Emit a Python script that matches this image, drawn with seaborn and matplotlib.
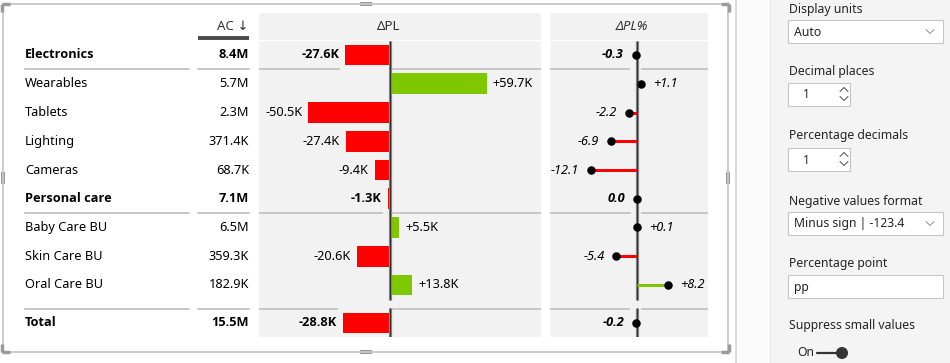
import numpy as np
import pandas as pd
import seaborn as sns
import matplotlib.pyplot as plt
from matplotlib import font_manager
from matplotlib.patches import Rectangle, Circle

# chart data
categories = ["Electronics", "Wearables", "Tablets", "Lighting", "Cameras",
              "Personal care", "Baby Care BU", "Skin Care BU", "Oral Care BU", "Total"]
is_group = [True, False, False, False, False, True, False, False, False, True]
ac_k = [8400, 5700, 2300, 371.4, 68.7, 7100, 6500, 359.3, 182.9, 15500]
dpl_k = [-27.6, 59.7, -50.5, -27.4, -9.4, -1.3, 5.5, -20.6, 13.8, -28.8]
dpl_pct = [-0.3, 1.1, -2.2, -6.9, -12.1, 0.0, 0.1, -5.4, 8.2, -0.2]
headers = ["AC \u2193", "\u0394PL", "\u0394PL%"]

# format pane texts
pane_labels = ["Display units", "Decimal places", "Percentage decimals",
               "Negative values format", "Percentage point", "Suppress small values"]
pane_values = ["Auto", "1", "1", "Minus sign | -123.4", "pp", "On"]

RED = "#ff0000"
GREEN = "#7fc800"
TXT = "#252423"
PANEL = "#f2f2f2"
SEP = "#c8c8c8"

sns.set_theme(style="white")
plt.rcParams["font.family"] = ["Noto Sans", "DejaVu Sans"]
FS = 9.2

# pick a family that really has a bold face
BOLD_FAM = ["Noto Sans", "DejaVu Sans"]
for fam in ["Noto Sans", "Open Sans", "Liberation Sans", "DejaVu Sans"]:
    try:
        f = font_manager.findfont(font_manager.FontProperties(family=fam, weight="bold"),
                                  fallback_to_default=False)
        if "bold" in f.lower():
            BOLD_FAM = [fam, "DejaVu Sans"]
            break
    except Exception:
        pass


def wkw(bold, italic=False):
    kw = {}
    if bold:
        kw.update(fontweight="bold", family=BOLD_FAM)
    if italic:
        kw.update(style="italic")
    return kw


W, H = 950, 363
PX = 0.72  # points per pixel at dpi 100
fig = plt.figure(figsize=(W / 100, H / 100), dpi=100)
bg = fig.add_axes([0, 0, 1, 1])
bg.set_xlim(0, W)
bg.set_ylim(H, 0)
bg.axis("off")


def px_axes(x0, y0, x1, y1):
    ax = fig.add_axes([x0 / W, 1 - y1 / H, (x1 - x0) / W, (y1 - y0) / H])
    ax.set_facecolor("none")
    return ax


ROW0, ROWH = 55, 28.75
row_pos = np.array([0, 1, 2, 3, 4, 5, 6, 7, 8, 9.32])
row_y = ROW0 + ROWH * row_pos
sep_pos = {0: 0.487, 5: 5.496, 9: 8.835}  # separator under/above group rows

df = pd.DataFrame({"cat": categories, "pos": row_pos, "ac": ac_k, "dpl": dpl_k,
                   "pct": dpl_pct, "group": is_group})
df["sign"] = np.where(df["dpl"] < 0, "neg", "pos")
df["psign"] = np.where(df["pct"] < 0, "neg", "pos")


def fmt_ac(v):
    return f"{v / 1000:.1f}M" if v >= 1000 else f"{v:.1f}K"


# ---- visual frame and handles
fr = dict(color="#c8c8c8", lw=1.3)
bg.plot([3, 728], [4, 4], **fr)
bg.plot([3, 728], [352, 352], **fr)
bg.plot([3, 3], [4, 352], **fr)
bg.plot([728, 728], [4, 352], **fr)
hc = "#9a9a9a"
for (x, y, w, h) in [(360, 2, 12, 4), (360, 350, 12, 4), (1, 172, 4, 12), (726, 172, 4, 12)]:
    bg.add_patch(Rectangle((x, y), w, h, color=hc, lw=0))
for (cx, cy, dx, dy) in [(2, 4, 1, 1), (729, 4, -1, 1), (2, 352, 1, -1), (729, 352, -1, -1)]:
    bg.plot([cx, cx + 8 * dx], [cy, cy], color=hc, lw=2.5, solid_capstyle="butt")
    bg.plot([cx, cx], [cy, cy + 8 * dy], color=hc, lw=2.5, solid_capstyle="butt")

# ---- panel backgrounds
for (x0, x1) in [(259, 541), (550, 708)]:
    bg.add_patch(Rectangle((x0, 13), x1 - x0, 27, color=PANEL, lw=0))
    bg.add_patch(Rectangle((x0, 41), x1 - x0, 296, color=PANEL, lw=0))

# ---- headers
HFS = 9.6
bg.text(249, 26, headers[0], ha="right", va="center", fontsize=HFS, color="#333333")
bg.plot([198, 249], [38, 38], color="#4a4a4a", lw=3 * PX * 1.3, solid_capstyle="butt")
bg.text(389, 26, headers[1], ha="center", va="center", fontsize=HFS, color="#333333")
bg.text(632, 26, headers[2], ha="center", va="center", fontsize=HFS, color="#333333",
        style="italic")

# ---- category and AC columns
for i, r in df.iterrows():
    g = bool(r["group"])
    bg.text(25, row_y[i], r["cat"], ha="left", va="center", fontsize=FS, color="black",
            **wkw(g))
    bg.text(249, row_y[i], fmt_ac(r["ac"]), ha="right", va="center", fontsize=FS,
            color="black", **wkw(g))
for sp in sep_pos.values():
    yy = ROW0 + ROWH * sp
    bg.plot([25, 189], [yy, yy], color=SEP, lw=2 * PX)
    bg.plot([198, 249], [yy, yy], color=SEP, lw=2 * PX)

# ---- delta PL bars
ax1 = px_axes(259, 41, 541, 337)
S1 = 1.62  # px per K
sns.barplot(data=df, x="dpl", y="pos", hue="sign", palette={"neg": RED, "pos": GREEN},
            orient="y", native_scale=True, width=0.72, dodge=False, legend=False,
            saturation=1, linewidth=0, ax=ax1, zorder=3)
ax1.set_xlim((259 - 390) / S1, (541 - 390) / S1)
ylim = ((337 - ROW0) / ROWH, (41 - ROW0) / ROWH)
ax1.set_ylim(*ylim)
ax1.axis("off")

for i, r in df.iterrows():
    v = r["dpl"]
    lab = f"{v:+.1f}K" if v > 0 else f"{v:.1f}K"
    off = 6 if v > 0 else -6
    ax1.annotate(lab, xy=(v, r["pos"]), xytext=(off * PX, 0), textcoords="offset points",
                 ha="left" if v > 0 else "right", va="center", fontsize=FS, color="black",
                 **wkw(bool(r["group"])))
for g, sp in sep_pos.items():
    v = df.loc[g, "dpl"]
    lo = min(v, 0) - 5 / S1
    hi = max(v, 0) + (5 / S1 if v > 0 else 1 / S1)
    ax1.hlines(sp, ax1.get_xlim()[0], lo, color=SEP, lw=2 * PX, zorder=1)
    ax1.hlines(sp, hi, ax1.get_xlim()[1], color=SEP, lw=2 * PX, zorder=1)


def axis_line(ax):
    for (a, b) in [(ylim[1], (300 - ROW0) / ROWH), ((308 - ROW0) / ROWH, ylim[0])]:
        ax.vlines(0, a, b, color="#8c8c8c", lw=3.2 * PX, zorder=4)
        ax.vlines(0, a, b, color="#333333", lw=1.2 * PX, zorder=4)


axis_line(ax1)

# ---- delta PL% lollipops
ax2 = px_axes(550, 41, 708, 337)
S2 = 3.8  # px per pp
ax2.hlines(df["pos"], 0, df["pct"], colors=[RED if s == "neg" else GREEN for s in df["psign"]],
           lw=3 * PX, zorder=5)
sns.scatterplot(data=df, x="pct", y="pos", color="black", s=(8.5 * PX) ** 2, linewidth=0,
                legend=False, ax=ax2, zorder=6)
ax2.set_xlim((550 - 637) / S2, (708 - 637) / S2)
ax2.set_ylim(*ylim)
ax2.axis("off")
axis_line(ax2)
for i, r in df.iterrows():
    v = r["pct"]
    lab = f"{v:+.1f}" if v > 0 else f"{v:.1f}"
    off = 12 if v > 0 else -12
    ax2.annotate(lab, xy=(v, r["pos"]), xytext=(off * PX, 0), textcoords="offset points",
                 ha="left" if v > 0 else "right", va="center", fontsize=FS, color="black",
                 **wkw(bool(r["group"]), italic=True))
for g, sp in sep_pos.items():
    v = df.loc[g, "pct"]
    lo = min(v, 0) - 6 / S2
    hi = max(v, 0) + 4 / S2
    ax2.hlines(sp, ax2.get_xlim()[0], lo, color=SEP, lw=2 * PX, zorder=1)
    ax2.hlines(sp, hi, ax2.get_xlim()[1], color=SEP, lw=2 * PX, zorder=1)

# ---- format pane
bg.add_patch(Rectangle((737, 0), 33, H, color="#fbfbfb", lw=0, zorder=0))
bg.add_patch(Rectangle((770, 0), W - 770, H, color="#f4f4f4", lw=0, zorder=0))
bg.plot([736, 736], [0, H], color="#dcdcdc", lw=1.5)
bg.plot([770, 770], [0, H], color="#e6e4e2", lw=0.8)

PFS = 8.8
label_y = [9, 71, 136, 201, 263, 325]
box_y = [20, 83, 148, 212, 275]
box_w = [155, 62, 62, 155, 155]
for k in range(5):
    bg.text(789, label_y[k], pane_labels[k], ha="left", va="center", fontsize=PFS, color=TXT)
    bg.add_patch(Rectangle((788, box_y[k]), box_w[k], 23, facecolor="white",
                           edgecolor="#c8c6c4", lw=0.8))
    tx = 803 if box_w[k] < 100 else 794
    bg.text(tx, box_y[k] + 12, pane_values[k], ha="left", va="center", fontsize=PFS, color=TXT)
    cy = box_y[k] + 11.5
    if k in (0, 3):
        bg.plot([926, 930, 934], [cy - 2, cy + 2, cy - 2], color="#a19f9d", lw=0.8)
    elif k in (1, 2):
        bg.plot([840, 844, 848], [cy - 3, cy - 7, cy - 3], color="#605e5c", lw=0.8)
        bg.plot([840, 844, 848], [cy + 2, cy + 6, cy + 2], color="#605e5c", lw=0.8)
bg.text(789, label_y[5], pane_labels[5], ha="left", va="center", fontsize=PFS, color=TXT)
bg.text(797, 353, pane_values[5], ha="left", va="center", fontsize=PFS, color=TXT)
bg.plot([817, 838], [353, 353], color="#333333", lw=1.6)
bg.add_patch(Circle((842, 353), 6, color="#333333", lw=0))

fig.savefig("out.png", dpi=100)
